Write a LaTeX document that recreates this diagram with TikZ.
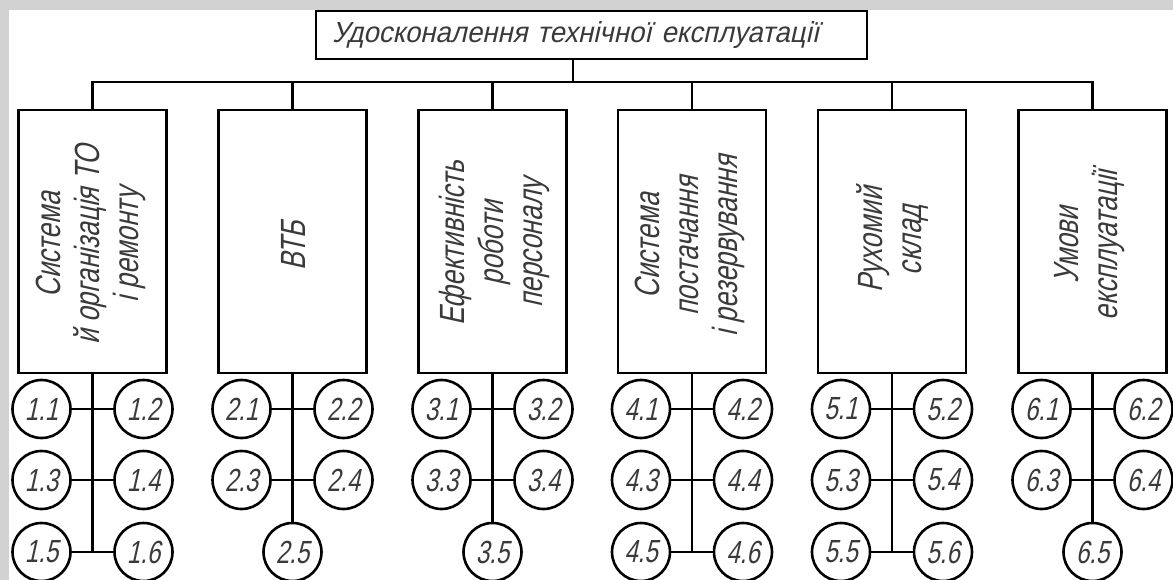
\documentclass[tikz,border=0pt]{standalone}
\usepackage{fontspec}
\newfontfamily\gost[FakeStretch=0.75,FakeSlant=0.22]{Liberation Sans}
\newfontfamily\gostwide[FakeStretch=0.95,FakeSlant=0.22]{Liberation Sans}
\definecolor{txt}{HTML}{3A3A3A}
\definecolor{frame}{HTML}{D2D2D2}
\begin{document}
\begin{tikzpicture}[x=1pt,y=-1pt,line width=2.6pt,
  catbox/.style={draw, minimum width=148pt, minimum height=263pt, inner sep=0pt},
  cattext/.style={rotate=90, align=center, inner sep=0pt, font=\gost\fontsize{35}{39}\selectfont, text=txt},
  item/.style={draw, circle, minimum size=58pt, inner sep=0pt, font=\gost\fontsize{32}{32}\selectfont, text=txt},
  titlebox/.style={draw, inner xsep=16pt, inner ysep=0pt, text width=519pt, minimum height=48pt, align=left, font=\gostwide\fontsize{29}{29}\selectfont, text=txt}]
\useasboundingbox (0,0) rectangle (1173,580);
\fill[frame] (0,0) rectangle (1173,580);
\fill[white] (9,10) rectangle (1173,580);

\node[titlebox] (t) at (591.5,35) {Удосконалення технічної експлуатації};
\coordinate (tj) at ([xshift=-18.5pt]t.south);
\coordinate (bus) at (573,82);
\draw (tj) -- (bus);

\foreach \g/\cx in {1/92.5,2/292.5,3/492.5,4/692,5/892,6/1092.5}{
  \node[catbox] (b\g) at (\cx,241.5) {};
  \draw (bus) -| (b\g.north);
  \node[item] (c\g1) at (\cx-51,409) {\g.1};
  \node[item] (c\g2) at (\cx+51,409) {\g.2};
  \node[item] (c\g3) at (\cx-51,480) {\g.3};
  \node[item] (c\g4) at (\cx+51,480) {\g.4};
  \draw (c\g1) -- (c\g2);
  \draw (c\g3) -- (c\g4);
}
\foreach \g/\cx in {1/92.5,4/692,5/892}{
  \node[item] (c\g5) at (\cx-51,552) {\g.5};
  \node[item] (c\g6) at (\cx+51,552) {\g.6};
  \draw (c\g5) -- (c\g6);
  \draw (b\g.south) -- (b\g.south |- c\g5.center);
}
\foreach \g/\cx in {2/292.5,3/492.5,6/1092.5}{
  \node[item] (c\g5) at (\cx,552) {\g.5};
  \draw (b\g.south) -- (c\g5.north);
}

\node[cattext] (l1) at (91,245) {Система\\й організація ТО\\і ремонту};
\node[cattext] (l2) at (293,246) {ВТБ};
\node[cattext] (l3) at (494,243) {Ефективність\\роботи\\персоналу};
\node[cattext] (l4) at (690,246) {Система\\постачання\\і резервування};
\node[cattext] (l5) at (892,240) {Рухомий\\склад};
\node[cattext] (l6) at (1090,245) {Умови\\експлуатації};
\end{tikzpicture}
\end{document}
